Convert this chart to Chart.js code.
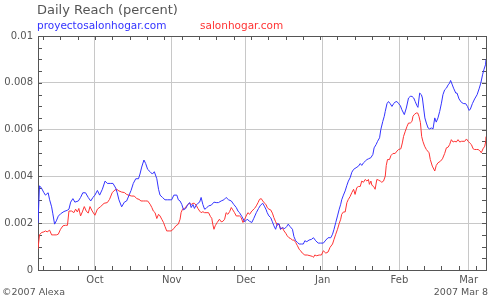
<!DOCTYPE html>
<html lang="en">

<head>
    <meta charset="UTF-8">
    <title>Daily Reach (percent)</title>
    <style>
        body {
            margin: 0;
            background: #fff;
            font-family: "DejaVu Sans", Verdana, sans-serif;
        }

        .quadro {
            position: relative;
            width: 500px;
            height: 300px;
        }

        .quadro canvas {
            position: absolute;
            left: 0;
            top: 0;
        }

        .titulo {
            position: absolute;
            left: 37px;
            top: 2px;
            font-size: 13px;
            color: #555;
            white-space: nowrap;
        }

        .legenda {
            position: absolute;
            top: 19px;
            font-size: 10.5px;
            white-space: nowrap;
        }

        .rodape {
            position: absolute;
            top: 286px;
            font-size: 9.5px;
            color: #555;
            white-space: nowrap;
        }
    </style>
</head>

<body>
    <div class="quadro">
        <canvas id="grafico" width="500" height="300"></canvas>
        <div class="titulo">Daily Reach (percent)</div>
        <div class="legenda" style="left:37px; color:#3333ff">proyectosalonhogar.com</div>
        <div class="legenda" style="left:200px; color:#ff3333">salonhogar.com</div>
        <div class="rodape" style="left:2px">©2007 Alexa</div>
        <div class="rodape" style="right:12px">2007 Mar 8</div>
    </div>

    <script src="https://cdn.jsdelivr.net/npm/chart.js"></script>
    <script>
        // dia 0 = 8 set 2006, dia 181 = 8 mar 2007
        const nomesMeses = ['Oct', 'Nov', 'Dec', 'Jan', 'Feb', 'Mar'];
        const diasMeses = [23, 54, 84, 115, 146, 174];

        const valoresEixoY = [0, 0.002, 0.004, 0.006, 0.008, 0.01];
        const rotulosEixoY = ['0', '0.002', '0.004', '0.006', '0.008', '0.01'];

        const nomesSites = ['proyectosalonhogar.com', 'salonhogar.com'];

        const diasAzul = [
            0, 0.6, 1.4, 2.4, 3.0, 4.1, 4.7, 5.5, 6.0, 6.7,
            7.4, 8.2, 9.1, 10.5, 11.8, 12.5, 13.2, 14.1, 14.9, 16.3,
            17.2, 18.1, 19.2, 20.3, 21.3, 22.2, 23.0, 24.0, 24.9, 26.0,
            27.1, 28.0, 29.4, 30.3, 31.4, 32.0, 32.7, 33.8, 34.9, 35.8,
            36.8, 37.6, 38.5, 39.5, 40.6, 41.2, 41.9, 42.8, 43.5, 44.3,
            45.3, 46.2, 47.0, 48.0, 48.7, 49.3, 50.3, 51.3, 52.4, 53.4,
            54.0, 54.9, 56.1, 56.7, 57.4, 58.1, 58.8, 59.7, 60.5, 61.3,
            61.9, 62.6, 63.2, 63.9, 64.6, 65.3, 65.9, 66.6, 67.3, 67.9,
            68.9, 70.0, 71.1, 72.0, 72.9, 74.0, 75.1, 76.0, 77.0, 78.1,
            79.1, 80.1, 80.8, 81.4, 82.4, 83.5, 84.5, 85.5, 86.4, 87.2,
            88.2, 89.1, 89.9, 90.8, 91.6, 92.2, 92.6, 93.3, 94.0, 94.7,
            95.3, 96.0, 96.7, 97.4, 98.0, 98.7, 99.7, 100.5, 101.1, 101.8,
            102.8, 103.4, 104.1, 104.8, 105.5, 106.4, 107.2, 107.8, 108.6, 109.5,
            110.5, 111.3, 112.2, 113.2, 114.2, 115.3, 116.3, 117.2, 118.3, 119.0,
            119.6, 120.3, 121.0, 121.7, 122.3, 122.7, 123.4, 124.1, 124.8, 125.4,
            126.1, 126.8, 127.5, 128.5, 129.5, 130.2, 130.8, 131.5, 132.2, 132.9,
            133.5, 134.5, 135.3, 135.8, 136.6, 137.2, 138.0, 138.5, 139.3, 139.9,
            140.3, 141.0, 141.6, 142.3, 143.0, 143.7, 144.3, 145.0, 145.7, 146.4,
            147.0, 148.0, 148.8, 149.7, 150.4, 151.1, 151.8, 152.4, 153.1, 153.5,
            154.2, 154.9, 155.3, 155.8, 156.3, 156.9, 157.6, 158.2, 158.9, 159.6,
            160.3, 160.9, 161.6, 162.3, 163.0, 163.6, 164.3, 165.0, 165.7, 166.3,
            166.7, 167.4, 167.9, 168.8, 169.3, 170.1, 171.1, 172.0, 172.8, 173.5,
            174.2, 174.7, 175.5, 176.4, 177.4, 178.2, 178.9, 179.6, 180.2, 180.8,
            181
        ];
        const valoresAzul = [
            0.0020, 0.0036, 0.0035, 0.0033, 0.0032, 0.0033, 0.0030, 0.0027, 0.0024, 0.00196,
            0.0021, 0.0023, 0.0024, 0.0025, 0.00255, 0.0026, 0.0029, 0.00305, 0.0029, 0.00295,
            0.0031, 0.0033, 0.0033, 0.0031, 0.00295, 0.0031, 0.0032, 0.0034, 0.0032, 0.00345,
            0.0038, 0.0037, 0.0037, 0.0037, 0.0035, 0.0033, 0.0030, 0.0027, 0.0029, 0.00295,
            0.0032, 0.0034, 0.0037, 0.0039, 0.0039, 0.0041, 0.0044, 0.0047, 0.00455, 0.0043,
            0.0042, 0.0041, 0.0042, 0.0039, 0.00345, 0.0032, 0.0031, 0.0030, 0.0030, 0.0030,
            0.0030, 0.0032, 0.0032, 0.0030, 0.00295, 0.0028, 0.00257, 0.00263, 0.0028, 0.00288,
            0.00267, 0.0028, 0.00263, 0.00277, 0.00285, 0.0029, 0.0031, 0.0028, 0.0026, 0.00263,
            0.00274, 0.00277, 0.0029, 0.00288, 0.00288, 0.00295, 0.0030, 0.0031, 0.0030, 0.00295,
            0.0028, 0.00267, 0.00252, 0.00245, 0.00228, 0.00206, 0.00217, 0.00208, 0.00203, 0.00221,
            0.00245, 0.00263, 0.00277, 0.00285, 0.0027, 0.00257, 0.00245, 0.00231, 0.00224, 0.00206,
            0.00189, 0.00174, 0.00199, 0.00196, 0.00174, 0.00181, 0.00177, 0.00186, 0.00196, 0.00186,
            0.00174, 0.00143, 0.00125, 0.00118, 0.00111, 0.00111, 0.00111, 0.00125, 0.00121, 0.00128,
            0.00131, 0.00138, 0.00125, 0.00115, 0.00115, 0.00115, 0.00128, 0.00138, 0.00138, 0.00153,
            0.00174, 0.00203, 0.00231, 0.0026, 0.00281, 0.0030, 0.0032, 0.00338, 0.00362, 0.0038,
            0.00394, 0.00418, 0.0043, 0.00437, 0.00444, 0.00455, 0.00447, 0.00458, 0.00465, 0.00472,
            0.00475, 0.0048, 0.00494, 0.00522, 0.00536, 0.0055, 0.00565, 0.006, 0.00635, 0.00657,
            0.00678, 0.00711, 0.0072, 0.00711, 0.00699, 0.00711, 0.00718, 0.0072, 0.00711, 0.00702,
            0.00685, 0.00664, 0.00692, 0.00735, 0.00742, 0.00742, 0.00735, 0.0072, 0.00702, 0.00695,
            0.00756, 0.00749, 0.00735, 0.00692, 0.0065, 0.00628, 0.00607, 0.00603, 0.00607, 0.00603,
            0.0065, 0.00632, 0.0065, 0.00678, 0.00713, 0.00749, 0.0077, 0.00777, 0.00791, 0.00799,
            0.0081, 0.00791, 0.00777, 0.00756, 0.00756, 0.00731, 0.00716, 0.00711, 0.00711, 0.00699,
            0.00682, 0.00688, 0.00711, 0.00731, 0.00749, 0.00774, 0.00799, 0.00834, 0.00858, 0.00877,
            0.009
        ];

        const diasVermelho = [
            0, 0.6, 1.4, 2.4, 3.0, 3.7, 4.7, 5.5, 6.4, 7.4,
            8.2, 9.1, 10.1, 11.1, 11.9, 12.5, 13.6, 14.5, 15.2, 15.9,
            16.5, 17.2, 17.9, 18.7, 19.5, 20.3, 21.0, 21.9, 23.0, 24.0,
            25.3, 26.7, 28.0, 28.9, 30.0, 31.1, 31.8, 32.7, 33.8, 34.9,
            35.8, 36.8, 37.9, 38.9, 39.9, 40.8, 41.6, 42.6, 43.5, 44.3,
            45.3, 46.0, 46.6, 47.3, 48.0, 48.7, 49.3, 50.0, 50.7, 51.3,
            52.0, 53.0, 53.8, 54.9, 55.7, 56.7, 57.4, 57.8, 58.4, 59.2,
            60.1, 61.1, 61.9, 62.6, 63.2, 63.9, 64.6, 65.3, 65.9, 66.6,
            67.3, 67.9, 68.9, 69.7, 70.2, 70.6, 71.1, 71.6, 72.4, 73.3,
            74.0, 74.7, 75.4, 76.0, 76.7, 77.4, 78.1, 78.7, 79.4, 80.1,
            80.8, 81.4, 82.1, 82.8, 83.5, 84.1, 84.8, 85.5, 86.4, 87.5,
            88.2, 88.9, 89.5, 90.2, 90.8, 91.6, 92.2, 92.6, 93.3, 94.0,
            94.7, 95.3, 96.0, 96.7, 97.4, 98.0, 98.7, 99.4, 100.1, 100.7,
            101.4, 102.1, 102.8, 103.4, 104.1, 104.8, 105.5, 106.1, 106.8, 107.8,
            108.8, 109.9, 110.9, 111.3, 111.8, 112.6, 113.6, 114.5, 115.3, 116.3,
            117.2, 118.0, 119.0, 119.6, 120.3, 121.0, 121.7, 122.3, 122.7, 123.4,
            124.1, 124.8, 125.4, 126.1, 126.8, 127.5, 128.1, 128.8, 129.5, 130.2,
            130.8, 131.5, 132.2, 132.9, 133.5, 133.9, 134.5, 134.9, 135.6, 136.2,
            136.9, 137.6, 138.3, 138.9, 139.6, 140.3, 140.7, 141.2, 142.0, 142.6,
            143.4, 144.3, 145.0, 145.7, 146.6, 147.2, 147.7, 148.4, 149.1, 149.7,
            150.4, 151.1, 151.5, 152.0, 152.8, 153.4, 153.9, 154.5, 155.0, 155.5,
            156.2, 156.9, 158.0, 158.5, 159.3, 160.3, 160.9, 161.6, 162.6, 163.4,
            164.3, 165.0, 165.7, 166.3, 167.0, 167.7, 168.4, 169.0, 169.7, 170.4,
            171.1, 171.7, 172.4, 173.1, 173.8, 174.4, 175.1, 175.8, 176.4, 177.1,
            177.8, 178.5, 179.1, 179.8, 180.5, 180.9, 181
        ];
        const valoresVermelho = [
            0.0009, 0.0015, 0.0016, 0.00163, 0.00167, 0.00163, 0.0017, 0.0015, 0.0015, 0.0015,
            0.00153, 0.00174, 0.00189, 0.00191, 0.00191, 0.00252, 0.00252, 0.00245, 0.0026, 0.00248,
            0.00263, 0.00231, 0.00248, 0.00271, 0.00252, 0.00243, 0.00271, 0.00252, 0.00234, 0.0026,
            0.00271, 0.00285, 0.00288, 0.00302, 0.00331, 0.00342, 0.00345, 0.00338, 0.00333, 0.00331,
            0.00323, 0.00319, 0.00316, 0.00316, 0.00305, 0.00302, 0.00295, 0.00295, 0.00295, 0.00295,
            0.00281, 0.00267, 0.00252, 0.00245, 0.0022, 0.00238, 0.00231, 0.00217, 0.00203, 0.00186,
            0.00167, 0.00167, 0.00167, 0.00177, 0.00189, 0.00196, 0.00217, 0.00245, 0.0026, 0.00263,
            0.00274, 0.00285, 0.0028, 0.00285, 0.00285, 0.00277, 0.00263, 0.00252, 0.00245, 0.00249,
            0.00245, 0.00245, 0.00245, 0.00228, 0.00221, 0.00196, 0.00174, 0.00189, 0.00203, 0.00217,
            0.00206, 0.00208, 0.00217, 0.00245, 0.00238, 0.00249, 0.00267, 0.00257, 0.00245, 0.00231,
            0.00231, 0.00231, 0.00224, 0.00203, 0.00217, 0.00231, 0.00245, 0.00238, 0.00252, 0.00263,
            0.00274, 0.00288, 0.00302, 0.00305, 0.00295, 0.00285, 0.00278, 0.00267, 0.0026, 0.00257,
            0.00243, 0.00224, 0.00206, 0.00191, 0.00196, 0.00174, 0.00181, 0.00167, 0.00157, 0.00146,
            0.00138, 0.00134, 0.00128, 0.00128, 0.00118, 0.00104, 0.00089, 0.00082, 0.00072, 0.00064,
            0.00064, 0.00061, 0.00058, 0.00054, 0.00064, 0.00061, 0.00064, 0.00064, 0.00082, 0.00072,
            0.00077, 0.00097, 0.00111, 0.00131, 0.00153, 0.00174, 0.00199, 0.00217, 0.00238, 0.00248,
            0.00248, 0.00288, 0.00302, 0.00314, 0.00331, 0.00345, 0.00323, 0.00352, 0.00357, 0.00357,
            0.0038, 0.00375, 0.00387, 0.0038, 0.00387, 0.00366, 0.0038, 0.00362, 0.00357, 0.00345,
            0.00387, 0.00384, 0.0038, 0.00375, 0.0038, 0.00401, 0.00447, 0.00472, 0.00472, 0.00489,
            0.00498, 0.00498, 0.00508, 0.00515, 0.00518, 0.00543, 0.00571, 0.00593, 0.00614, 0.00628,
            0.00628, 0.00635, 0.00657, 0.00664, 0.00671, 0.00671, 0.00657, 0.0063, 0.00571, 0.0055,
            0.00529, 0.00515, 0.00501, 0.00472, 0.00444, 0.00423, 0.00447, 0.00458, 0.00465, 0.00475,
            0.00498, 0.00522, 0.00525, 0.00536, 0.00557, 0.00547, 0.0055, 0.00547, 0.00557, 0.00547,
            0.0055, 0.0055, 0.0055, 0.0056, 0.0055, 0.00543, 0.00536, 0.00518, 0.00515, 0.00515,
            0.00515, 0.0051, 0.00501, 0.00518, 0.00529, 0.0055, 0.0057
        ];

        // junta dias e valores em pontos {x, y}
        function montarPontos(dias, valores) {
            const pontos = [];
            for (let posicao = 0; posicao < dias.length; posicao++) {
                pontos.push({ x: dias[posicao], y: valores[posicao] });
            }
            return pontos;
        }

        // moldura do grafico com os tracinhos semanais (domingos) e a cada 0.0005
        const moldura = {
            id: 'moldura',
            beforeDatasetsDraw(chart) {
                const ctx = chart.ctx;
                const area = chart.chartArea;
                const eixoX = chart.scales.x;
                const eixoY = chart.scales.y;

                ctx.save();
                ctx.strokeStyle = '#555';
                ctx.lineWidth = 1;
                ctx.beginPath();
                for (let dia = 2; dia <= 181; dia += 7) {
                    const px = Math.round(eixoX.getPixelForValue(dia)) + 0.5;
                    ctx.moveTo(px, area.bottom);
                    ctx.lineTo(px, area.bottom - 4);
                    ctx.moveTo(px, area.top);
                    ctx.lineTo(px, area.top + 4);
                }
                for (let passo = 1; passo < 20; passo++) {
                    const py = Math.round(eixoY.getPixelForValue(passo * 0.0005)) + 0.5;
                    ctx.moveTo(area.left, py);
                    ctx.lineTo(area.left + 4, py);
                    ctx.moveTo(area.right, py);
                    ctx.lineTo(area.right - 4, py);
                }
                ctx.stroke();
                ctx.strokeRect(area.left + 0.5, area.top + 0.5, area.right - area.left, area.bottom - area.top);
                ctx.restore();
            }
        };

        Chart.defaults.font.family = '"DejaVu Sans", Verdana, sans-serif';
        Chart.defaults.font.size = 10;
        Chart.defaults.color = '#555';

        new Chart(document.getElementById('grafico'), {
            type: 'line',
            data: {
                datasets: [{
                    label: nomesSites[0],
                    data: montarPontos(diasAzul, valoresAzul),
                    borderColor: '#3333ff',
                    borderWidth: 1,
                    pointRadius: 0,
                    tension: 0,
                    fill: false
                }, {
                    label: nomesSites[1],
                    data: montarPontos(diasVermelho, valoresVermelho),
                    borderColor: '#ff3333',
                    borderWidth: 1,
                    pointRadius: 0,
                    tension: 0,
                    fill: false
                }]
            },
            options: {
                responsive: false,
                devicePixelRatio: 1,
                animation: false,
                layout: {
                    padding: { top: 36, right: 14, left: 0, bottom: 0 }
                },
                plugins: {
                    legend: { display: false },
                    title: { display: false },
                    tooltip: { enabled: false }
                },
                scales: {
                    x: {
                        type: 'linear',
                        min: 0,
                        max: 181,
                        afterBuildTicks: function (eixo) {
                            eixo.ticks = diasMeses.map(dia => ({ value: dia }));
                        },
                        afterFit: function (eixo) {
                            eixo.height = 30;
                        },
                        ticks: {
                            autoSkip: false,
                            maxRotation: 0,
                            padding: 4,
                            callback: function (valor, indice) {
                                return nomesMeses[indice];
                            }
                        },
                        grid: { color: '#c8c8c8', drawTicks: false },
                        border: { display: false }
                    },
                    y: {
                        min: 0,
                        max: 0.01,
                        afterBuildTicks: function (eixo) {
                            eixo.ticks = valoresEixoY.map(v => ({ value: v }));
                        },
                        afterFit: function (eixo) {
                            eixo.width = 38;
                        },
                        ticks: {
                            padding: 5,
                            callback: function (valor, indice) {
                                return rotulosEixoY[indice];
                            }
                        },
                        grid: { color: '#c8c8c8', drawTicks: false },
                        border: { display: false }
                    }
                }
            },
            plugins: [moldura]
        });
    </script>
</body>

</html>
